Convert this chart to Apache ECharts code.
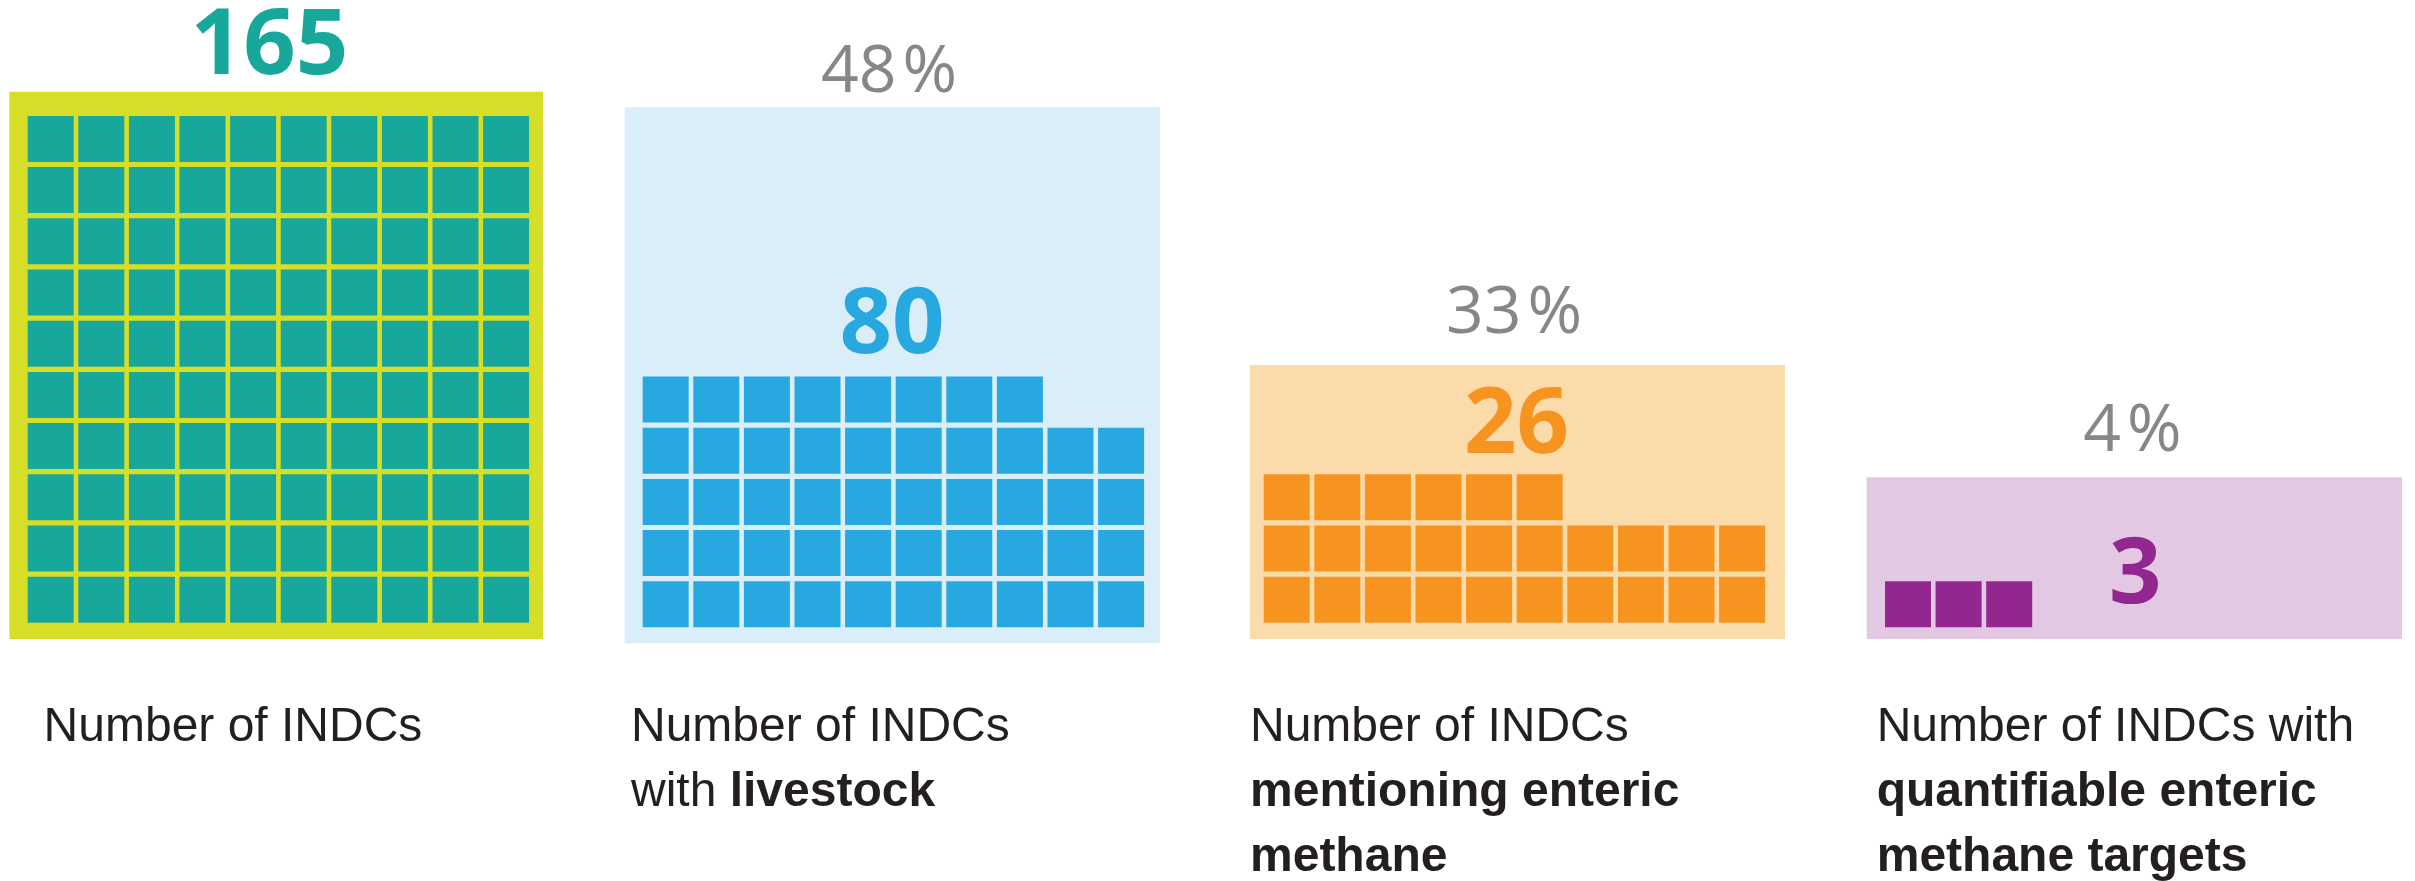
<!DOCTYPE html>
<html>
<head>
<meta charset="utf-8">
<script src="https://cdn.jsdelivr.net/npm/echarts@6/dist/echarts.min.js"></script>
<style>
  html, body { margin: 0; padding: 0; background: #ffffff; }
  #chart { width: 2415px; height: 881px; }
</style>
</head>
<body>
<div id="chart"></div>
<script>
// ---------- data ----------
const panelNames = ['all', 'livestock', 'enteric', 'targets'];
const cellCounts = [100, 48, 26, 3];          // squares drawn in each waffle
const totals = [165, 80, 26, 3];              // big numbers
const percents = [null, 48, 33, 4];           // grey percentage labels
const labelTexts = [
  'Number of INDCs',
  'Number of INDCs\nwith {b|livestock}',
  'Number of INDCs\n{b|mentioning enteric}\n{b|methane}',
  'Number of INDCs with\n{b|quantifiable enteric}\n{b|methane targets}'
];
const COLS = 10;

// ---------- layout / style ----------
const PX = 50.6, PY = 51.2, CW = 46, CH = 46;
const boxes = [
  { x: 9.3,    y: 91.7,  w: 533.7, h: 547.3, ox: 27.7,   oy: 622.7 },
  { x: 624.7,  y: 107.3, w: 535.3, h: 536,   ox: 642.7,  oy: 627.3 },
  { x: 1250,   y: 365,   w: 535,   h: 274,   ox: 1263.7, oy: 622.7 },
  { x: 1866.7, y: 477.3, w: 535.3, h: 161.7, ox: 1885,   oy: 627.3 }
];
const bgColors = ['#D6DE27', '#D9EEF8', '#FBDBAA', '#E2C8E2'];
const cellColors = ['#18A79B', '#27A8E0', '#F7941F', '#92278F'];
const numPos = [[269.5, 48], [892, 327], [1516.5, 427], [2135.4, 577]];
const pctPos = [null, [889, 73], [1514, 314.5], [2132.5, 432.5]];
const labelPos = [[43.6, 695], [631, 695], [1250, 695], [1876.7, 695]];

const chart = echarts.init(document.getElementById('chart'), null, { renderer: 'canvas' });

const grids = [], xAxes = [], yAxes = [], series = [], graphics = [];

boxes.forEach((b, i) => {
  grids.push({
    left: b.x, top: b.y, width: b.w, height: b.h,
    show: true, backgroundColor: bgColors[i], borderWidth: 0
  });
  xAxes.push({
    type: 'value', gridIndex: i, show: false,
    min: -(b.ox - b.x) / PX, max: (b.x + b.w - b.ox) / PX,
    splitLine: { show: false }
  });
  yAxes.push({
    type: 'value', gridIndex: i, show: false,
    min: -(b.y + b.h - b.oy) / PY, max: (b.oy - b.y) / PY,
    splitLine: { show: false }
  });
  const cells = [];
  for (let k = 0; k < cellCounts[i]; k++) {
    cells.push([k % COLS, Math.floor(k / COLS)]);
  }
  series.push({
    type: 'custom',
    name: panelNames[i],
    xAxisIndex: i, yAxisIndex: i,
    clip: false,
    silent: true,
    data: cells,
    renderItem: (params, api) => {
      const pt = api.coord([api.value(0), api.value(1)]);
      const s = api.size([1, 1]);
      const w = s[0] * CW / PX, h = s[1] * CH / PY;
      return {
        type: 'rect',
        shape: { x: pt[0], y: pt[1] - h, width: w, height: h },
        style: { fill: cellColors[i] }
      };
    }
  });

  graphics.push({
    type: 'text', x: numPos[i][0], y: numPos[i][1], silent: true,
    style: {
      text: String(totals[i]),
      fill: cellColors[i],
      fontFamily: 'Open Sans', fontWeight: 'bold', fontSize: 92,
      align: 'center', verticalAlign: 'middle'
    }
  });
  if (percents[i] !== null) {
    graphics.push({
      type: 'text', x: pctPos[i][0], y: pctPos[i][1], silent: true,
      style: {
        text: '{n|' + percents[i] + '}{p|%}',
        align: 'center', verticalAlign: 'middle',
        fontFamily: 'Open Sans', fontSize: 66, fill: '#878787',
        rich: {
          n: { fontFamily: 'Open Sans', fontSize: 66, fill: '#878787' },
          p: { fontFamily: 'Open Sans', fontSize: 66, fill: '#878787', padding: [0, 0, 0, 6] }
        }
      }
    });
  }
  graphics.push({
    type: 'text', x: labelPos[i][0], y: labelPos[i][1], silent: true,
    style: {
      text: labelTexts[i],
      align: 'left', verticalAlign: 'top',
      fontFamily: 'Liberation Sans', fontSize: 48, lineHeight: 65, fill: '#231F20',
      rich: {
        b: { fontFamily: 'Liberation Sans', fontWeight: 'bold', fontSize: 48, lineHeight: 65, fill: '#231F20' }
      }
    }
  });
});

chart.setOption({
  animation: false,
  backgroundColor: '#ffffff',
  grid: grids,
  xAxis: xAxes,
  yAxis: yAxes,
  series: series,
  graphic: graphics
});
</script>
</body>
</html>
